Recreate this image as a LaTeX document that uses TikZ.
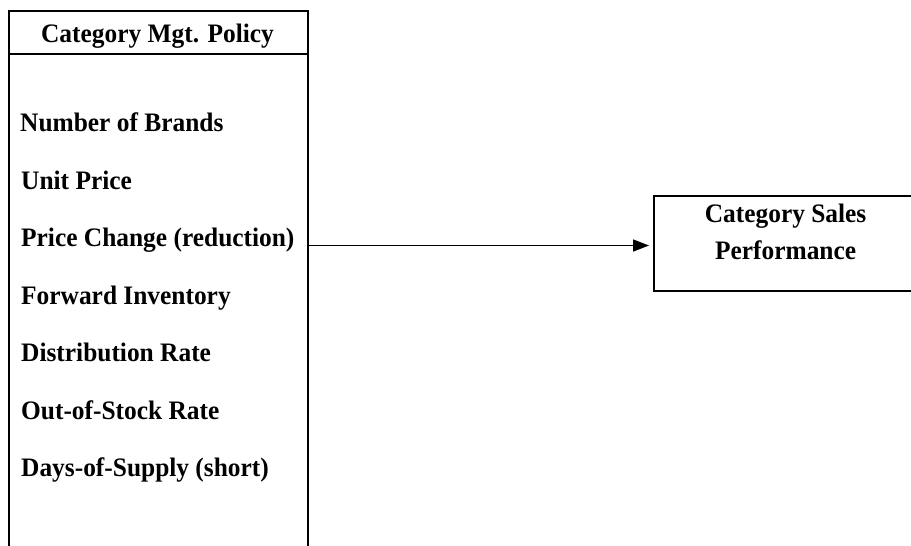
\documentclass[tikz,border=0pt]{standalone}
\usepackage{fontspec}
\setmainfont{Liberation Serif}
\usetikzlibrary{arrows.meta}
\newcommand{\vstretch}[1]{\scalebox{1}[1.05]{#1}}
\begin{document}
\begin{tikzpicture}[x=1pt,y=-1pt,
  lbl/.style={font=\fontsize{25.4}{37}\selectfont\bfseries, inner sep=0pt, anchor=base west},
  ctr/.style={lbl, anchor=base},
  boxline/.style={line width=2pt, draw=black},
  conn/.style={line width=1.6pt, -{Triangle[length=16pt,width=12pt]}}]
\useasboundingbox (0,0) rectangle (911,546);
\clip (0,0) rectangle (911,546);
% left box (open at the bottom of the page)
\node[boxline, minimum width=299pt, minimum height=560pt, anchor=north west, inner sep=0pt] (policy) at (8,10) {};
\draw[boxline] ([yshift=-44pt]policy.north west) -- ([yshift=-44pt]policy.north east);
\node[ctr] (head) at (157.5,42.3) {\vstretch{Category Mgt. Policy}};
\node[lbl] (i1) at (20,131.7) {\vstretch{Number of Brands}};
\node[lbl] (i2) at (21,189.2) {\vstretch{Unit Price}};
\node[lbl] (i3) at (21,246.7) {\vstretch{Price Change (reduction)}};
\node[lbl] (i4) at (21,304.2) {\vstretch{Forward Inventory}};
\node[lbl] (i5) at (21,361.7) {\vstretch{Distribution Rate}};
\node[lbl] (i6) at (21,419.2) {\vstretch{Out-of-Stock Rate}};
\node[lbl] (i7) at (21,476.7) {\vstretch{Days-of-Supply (short)}};
% right box
\node[boxline, minimum width=270pt, minimum height=95pt, anchor=north west, inner sep=0pt] (perf) at (653,195) {};
\node[ctr] (p1) at (785.6,222.3) {\vstretch{Category Sales}};
\node[ctr] (p2) at (785.6,259.3) {\vstretch{Performance}};
% connector
\coordinate (ay) at (0,245.5);
\draw[conn, shorten >=4pt] (policy.east |- ay) -- (perf.west |- ay);
\end{tikzpicture}
\end{document}
